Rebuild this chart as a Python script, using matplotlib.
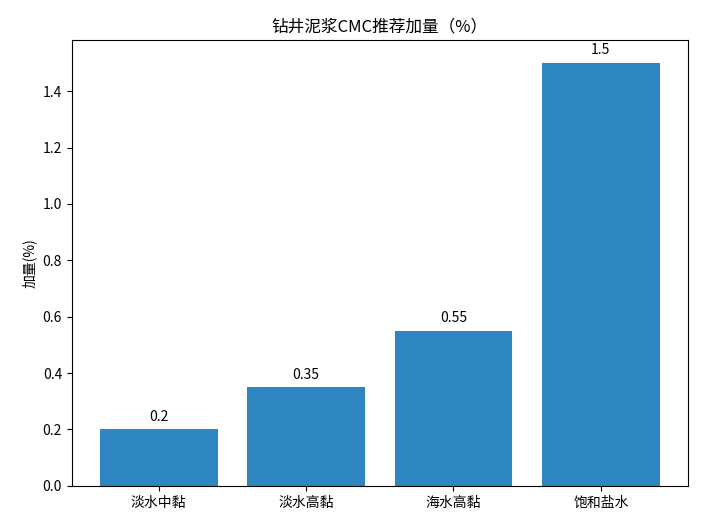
import matplotlib
matplotlib.use('Agg')
import matplotlib.pyplot as plt

plt.rcParams['font.family'] = ['Noto Sans CJK SC', 'DejaVu Sans']
plt.rcParams['axes.unicode_minus'] = False

# data
categories = ['淡水中黏', '淡水高黏', '海水高黏', '饱和盐水']
dosage = [0.2, 0.35, 0.55, 1.5]
value_labels = ['0.2', '0.35', '0.55', '1.5']

fig, ax = plt.subplots(figsize=(7.04, 5.28), dpi=100)
bars = ax.bar(categories, dosage, color='#2E86C1')

for bar, lab in zip(bars, value_labels):
    ax.annotate(lab, (bar.get_x() + bar.get_width() / 2, bar.get_height()),
                xytext=(0, 4), textcoords='offset points',
                ha='center', va='bottom', fontsize=10)

ax.set_title('钻井泥浆CMC推荐加量（%）', fontsize=12)
ax.set_ylabel('加量(%)')
ax.set_ylim(0, 1.581)
ax.set_yticks([0.0, 0.2, 0.4, 0.6, 0.8, 1.0, 1.2, 1.4])

plt.subplots_adjust(left=0.102, right=0.977, top=0.924, bottom=0.08)
plt.savefig('out.png', dpi=100)
